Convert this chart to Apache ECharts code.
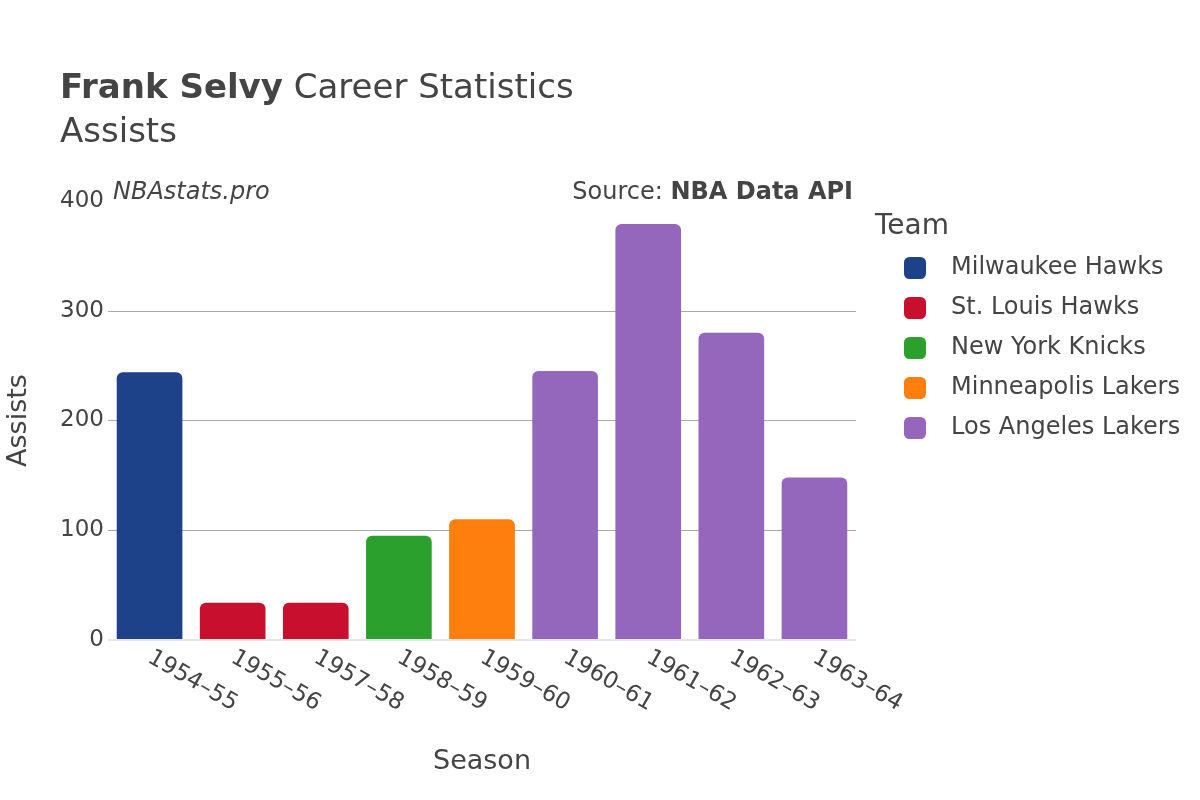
<!DOCTYPE html>
<html>
<head>
<meta charset="utf-8">
<script src="https://cdn.jsdelivr.net/npm/echarts@6/dist/echarts.min.js"></script>
<style>html,body{margin:0;padding:0;background:#fff}#c{width:1200px;height:800px}</style>
</head>
<body>
<div id="c"></div>
<script>
const seasons = ['1954–55','1955–56','1957–58','1958–59','1959–60','1960–61','1961–62','1962–63','1963–64'];
const teams = ['Milwaukee Hawks','St. Louis Hawks','New York Knicks','Minneapolis Lakers','Los Angeles Lakers'];
const seasonTeam = ['Milwaukee Hawks','St. Louis Hawks','St. Louis Hawks','New York Knicks','Minneapolis Lakers','Los Angeles Lakers','Los Angeles Lakers','Los Angeles Lakers','Los Angeles Lakers'];
const assists = [244, 34, 34, 95, 110, 245, 379, 280, 148];
const yTicks = [0, 100, 200, 300, 400];
const teamColors = ['#1d428a','#c8102e','#2ca02c','#ff7f0e','#9467bd'];

const font = '"DejaVu Sans", sans-serif';
const txt = '#444';

const series = teams.map((t, i) => ({
  name: t,
  type: 'bar',
  stack: 'all',
  barCategoryGap: '21%',
  itemStyle: { color: teamColors[i], borderRadius: [6, 6, 0, 0] },
  data: assists.map((v, j) => seasonTeam[j] === t ? v : null)
}));
series[0].markLine = {
  silent: true, symbol: 'none', label: { show: false },
  lineStyle: { color: '#e6e6e6', width: 2, type: 'solid' },
  data: [{ yAxis: 0 }]
};

const chart = echarts.init(document.getElementById('c'));
chart.setOption({
  animation: false,
  backgroundColor: '#fff',
  textStyle: { fontFamily: font },
  grid: { left: 108, right: 344, top: 201, bottom: 160, containLabel: false, outerBoundsMode: 'none' },
  xAxis: {
    type: 'category',
    data: seasons,
    axisLine: { show: false },
    axisTick: { show: false },
    axisLabel: { rotate: -30, color: txt, fontSize: 23, fontFamily: font, margin: 16, interval: 0 },
    name: 'Season',
    nameLocation: 'middle',
    nameGap: 108,
    nameTextStyle: { color: txt, fontSize: 27, fontFamily: font }
  },
  yAxis: {
    type: 'value',
    min: yTicks[0],
    max: yTicks[yTicks.length - 1],
    interval: 100,
    axisLine: { show: false },
    axisTick: { show: false },
    axisLabel: { color: txt, fontSize: 23, fontFamily: font, margin: 4, padding: [4, 0, 0, 0] },
    splitLine: { lineStyle: { color: ['rgba(0,0,0,0)', '#aaaaaa', '#aaaaaa', '#aaaaaa', 'rgba(0,0,0,0)'], width: 1 } },
    name: 'Assists',
    nameLocation: 'middle',
    nameGap: 76,
    nameTextStyle: { color: txt, fontSize: 27, fontFamily: font }
  },
  legend: {
    orient: 'vertical',
    left: 899,
    top: 251,
    itemWidth: 22,
    itemHeight: 22,
    itemGap: 16,
    icon: 'roundRect',
    textStyle: { color: txt, fontSize: 24, fontFamily: font, padding: [0, 0, 0, 20] },
    data: teams
  },
  graphic: [
    { type: 'text', left: 60, top: 72, style: { rich: { b: { fontWeight: 'bold', fontSize: 34, fill: txt, fontFamily: font }, n: { fontSize: 34, fill: txt, fontFamily: font } }, text: '{b|Frank Selvy}{n| Career Statistics}' } },
    { type: 'text', left: 60, top: 116, style: { text: 'Assists', fontSize: 34, fill: txt, fontFamily: font } },
    { type: 'text', left: 113, top: 181, style: { text: 'NBAstats.pro', fontSize: 24, fontStyle: 'italic', fill: txt, fontFamily: font } },
    { type: 'text', right: 347, top: 181, style: { rich: { n: { fontSize: 24, fill: txt, fontFamily: font }, b: { fontSize: 24, fontWeight: 'bold', fill: txt, fontFamily: font } }, text: '{n|Source: }{b|NBA Data API}' } },
    { type: 'text', left: 875, top: 213, style: { text: 'Team', fontSize: 28, fill: txt, fontFamily: font } }
  ],
  series: series
});
</script>
</body>
</html>
